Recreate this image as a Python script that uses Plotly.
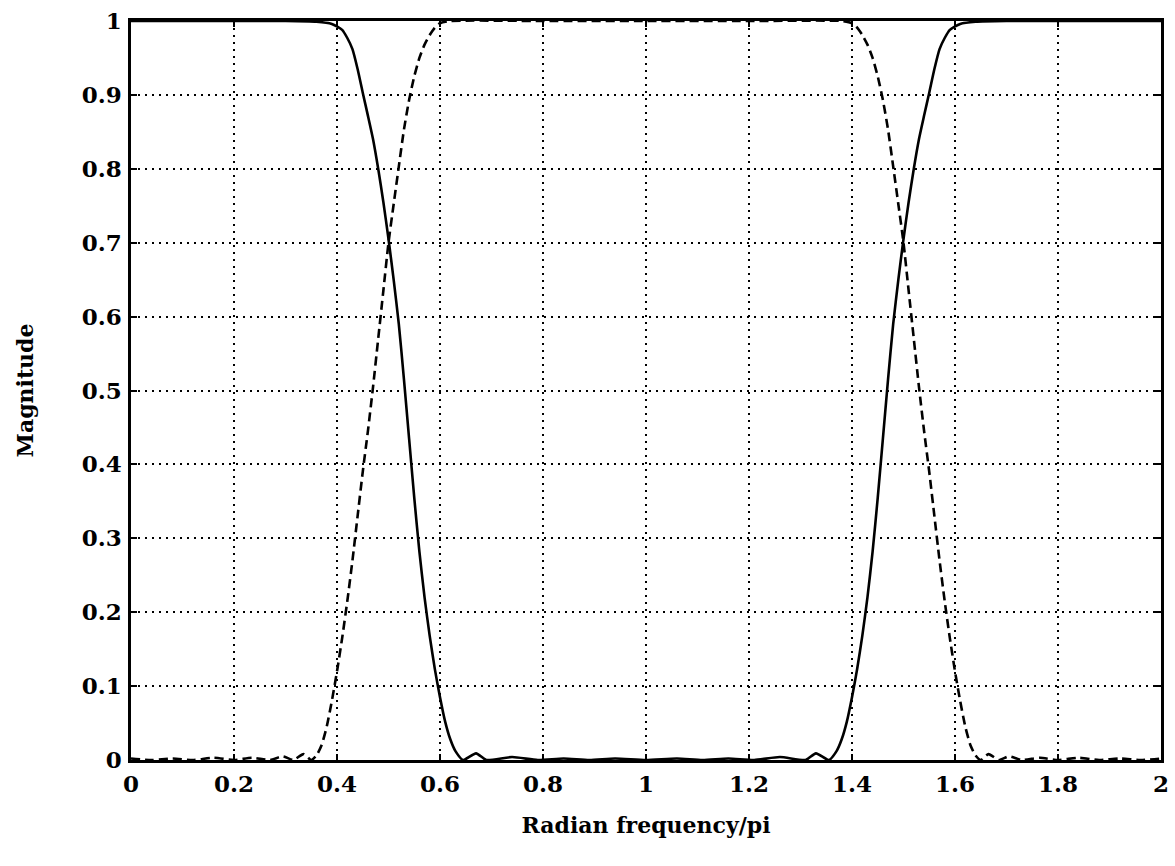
import plotly.graph_objects as go

# ---- data ----
solid_x = [0.00, 0.10, 0.20, 0.30, 0.36, 0.39, 0.41, 0.42, 0.43, 0.44, 0.45, 0.46, 0.47, 0.48,
           0.49, 0.50, 0.51, 0.52, 0.53, 0.54, 0.55, 0.56, 0.57, 0.58, 0.59, 0.60, 0.61, 0.62,
           0.63, 0.645, 0.67, 0.69, 0.74, 0.79, 0.84, 0.89, 0.94, 1.00, 1.06, 1.11, 1.16, 1.21,
           1.26, 1.31, 1.33, 1.355, 1.37, 1.38, 1.39, 1.40, 1.41, 1.42, 1.43, 1.44, 1.45,
           1.46, 1.47, 1.48, 1.49, 1.50, 1.51, 1.52, 1.53, 1.54, 1.55, 1.56, 1.57, 1.58, 1.59,
           1.61, 1.64, 1.70, 1.80, 1.90, 2.00]
solid_y = [1.000, 1.000, 1.000, 1.000, 0.999, 0.996, 0.988, 0.977, 0.962, 0.935, 0.903, 0.872, 0.840, 0.800,
           0.755, 0.705, 0.650, 0.590, 0.515, 0.435, 0.355, 0.282, 0.220, 0.168, 0.123, 0.085, 0.052, 0.028,
           0.012, 0.000, 0.009, 0.000, 0.004, 0.000, 0.002, 0.000, 0.002, 0.000, 0.002, 0.000, 0.002, 0.000,
           0.004, 0.000, 0.009, 0.000, 0.012, 0.028, 0.052, 0.085, 0.123, 0.168, 0.220, 0.282, 0.355,
           0.435, 0.515, 0.590, 0.650, 0.705, 0.755, 0.800, 0.840, 0.872, 0.903, 0.935, 0.962, 0.977, 0.988,
           0.996, 0.999, 1.000, 1.000, 1.000, 1.000]

dashed_x = [0.00, 0.04, 0.08, 0.12, 0.16, 0.20, 0.235, 0.27, 0.295, 0.315, 0.335, 0.35,
            0.36, 0.37, 0.38, 0.39, 0.40, 0.41, 0.42, 0.43, 0.44, 0.45, 0.46, 0.47, 0.48,
            0.49, 0.50, 0.51, 0.52, 0.53, 0.54, 0.55, 0.56, 0.57, 0.58, 0.59, 0.60, 0.62,
            0.80, 1.00, 1.20, 1.38, 1.40, 1.41, 1.42, 1.43, 1.44, 1.45, 1.46, 1.47, 1.48,
            1.49, 1.50, 1.51, 1.52, 1.53, 1.54, 1.55, 1.56, 1.57, 1.58, 1.59, 1.60, 1.61,
            1.62, 1.63, 1.64, 1.65, 1.665, 1.685, 1.705, 1.73, 1.765, 1.80, 1.84, 1.88,
            1.92, 1.96, 2.00]
dashed_y = [0.002, 0.000, 0.002, 0.000, 0.003, 0.000, 0.003, 0.000, 0.005, 0.000, 0.008, 0.000,
            0.006, 0.020, 0.045, 0.080, 0.120, 0.165, 0.215, 0.270, 0.330, 0.390, 0.445, 0.505, 0.570,
            0.635, 0.700, 0.752, 0.803, 0.853, 0.893, 0.925, 0.950, 0.968, 0.981, 0.991, 0.997, 1.000,
            1.000, 1.000, 1.000, 1.000, 0.997, 0.991, 0.981, 0.968, 0.950, 0.925, 0.893, 0.853, 0.803,
            0.752, 0.700, 0.635, 0.570, 0.505, 0.445, 0.390, 0.330, 0.270, 0.215, 0.165, 0.120, 0.080,
            0.045, 0.020, 0.006, 0.000, 0.008, 0.000, 0.005, 0.000, 0.003, 0.000, 0.003, 0.000,
            0.002, 0.000, 0.002]

x_ticks = [0, 0.2, 0.4, 0.6, 0.8, 1, 1.2, 1.4, 1.6, 1.8, 2]
x_tick_text = ["0", "0.2", "0.4", "0.6", "0.8", "1", "1.2", "1.4", "1.6", "1.8", "2"]
y_ticks = [0, 0.1, 0.2, 0.3, 0.4, 0.5, 0.6, 0.7, 0.8, 0.9, 1]
y_tick_text = ["0", "0.1", "0.2", "0.3", "0.4", "0.5", "0.6", "0.7", "0.8", "0.9", "1"]

FONT = "DejaVu Serif"

fig = go.Figure()
fig.add_trace(go.Scatter(x=solid_x, y=solid_y, mode="lines", line_shape="spline",
                         line=dict(color="black", width=2.6, smoothing=0.6), showlegend=False))
fig.add_trace(go.Scatter(x=dashed_x, y=dashed_y, mode="lines", line_shape="spline",
                         line=dict(color="black", width=2.6, dash="9px,5px", smoothing=0.6),
                         showlegend=False))

axis_common = dict(
    showline=True, linecolor="black", linewidth=2.5, mirror="ticks",
    ticks="inside", ticklen=6, tickwidth=2, tickcolor="black",
    showgrid=True, gridcolor="black", gridwidth=1.5, griddash="2px,5px",
    zeroline=False,
    tickfont=dict(family=FONT, size=23, color="black", weight="bold"),
)

fig.update_xaxes(range=[0, 2], tickvals=x_ticks, ticktext=x_tick_text,
                 title=dict(text="Radian frequency/pi", standoff=22,
                            font=dict(family=FONT, size=22, color="black", weight="bold")),
                 ticklabelstandoff=2,
                 **axis_common)
fig.update_yaxes(range=[0, 1], tickvals=y_ticks, ticktext=y_tick_text,
                 title=dict(text="Magnitude", standoff=42,
                            font=dict(family=FONT, size=22, color="black", weight="bold")),
                 ticklabelstandoff=2,
                 **axis_common)

fig.update_layout(
    width=1175, height=866,
    margin=dict(l=131, r=14, t=21, b=106, autoexpand=False),
    paper_bgcolor="white", plot_bgcolor="white",
)

fig.write_html("out.html")
